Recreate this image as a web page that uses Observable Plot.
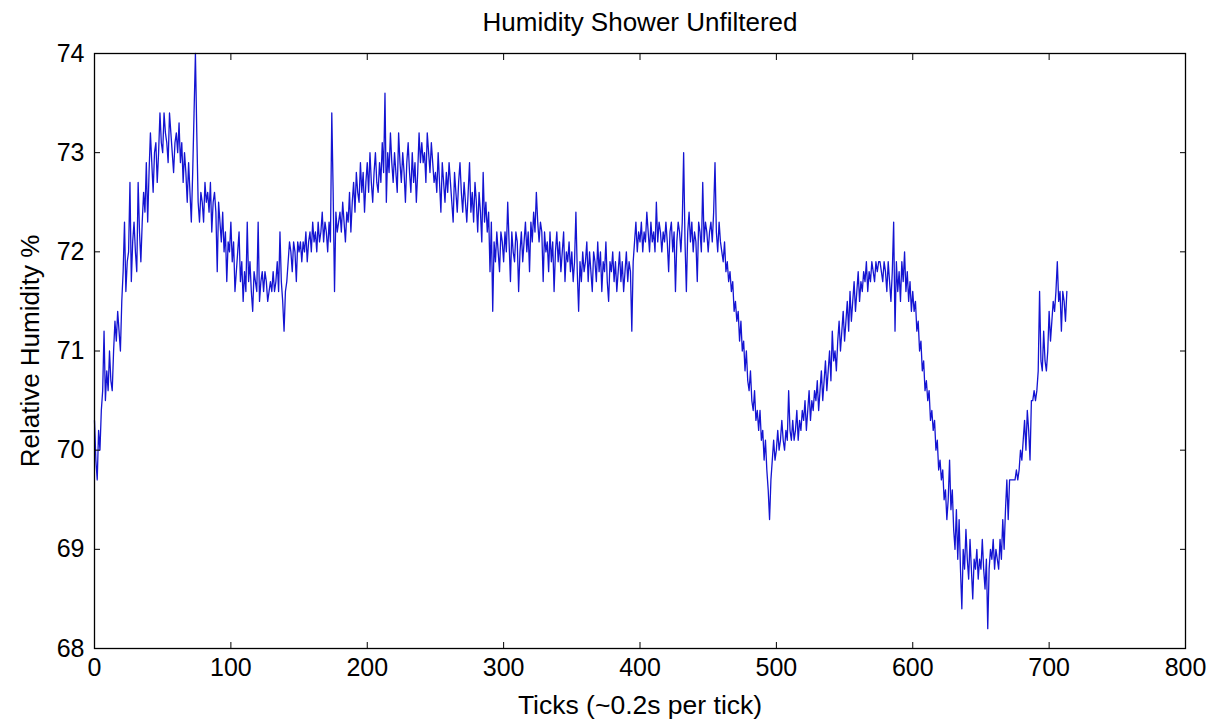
<!DOCTYPE html>
<html><head><meta charset="utf-8">
<script src="https://cdn.jsdelivr.net/npm/d3@7"></script>
<script src="https://cdn.jsdelivr.net/npm/@observablehq/plot@0.6"></script>
<style>html,body{margin:0;padding:0;background:#fff}</style>
</head><body><div id="chart"></div>
<script>
const title = "Humidity Shower Unfiltered";
const xLabel = "Ticks (~0.2s per tick)";
const yLabel = "Relative Humidity %";
const xTicks = [0, 100, 200, 300, 400, 500, 600, 700, 800];
const yTicks = [68, 69, 70, 71, 72, 73, 74];
// Relative humidity (%) per tick
const humidity = [
70.3,69.9,69.7,70.2,70.0,70.4,70.6,71.2,70.5,70.8,
70.6,71.0,70.7,70.6,71.0,71.3,71.1,71.4,71.2,71.0,
71.5,71.8,72.3,71.6,71.9,72.0,72.7,71.7,72.1,72.3,
72.0,71.8,72.7,72.2,71.9,72.3,72.6,72.4,72.9,72.3,
72.8,73.2,72.9,72.6,73.0,73.1,72.7,73.0,73.4,73.1,
73.0,73.4,73.2,73.1,72.9,73.4,73.2,73.0,72.8,73.1,
73.2,73.0,73.3,72.9,73.1,72.7,73.0,72.8,72.5,72.9,
72.6,72.3,72.8,73.4,74.0,73.2,72.5,72.3,72.6,72.5,
72.3,72.7,72.5,72.6,72.4,72.7,72.2,72.5,72.6,72.4,
71.8,72.5,72.3,72.1,72.4,72.0,72.2,71.7,72.1,72.0,
72.3,71.9,72.1,71.6,71.8,72.0,72.2,71.7,71.9,71.5,
71.8,71.6,72.3,71.7,71.9,71.6,71.4,71.8,71.7,71.6,
72.3,71.5,71.7,71.8,71.6,71.8,71.7,71.5,71.6,71.7,
71.6,71.8,71.6,71.7,71.9,71.6,72.2,71.7,71.5,71.2,
71.6,71.7,71.9,72.1,72.0,71.8,72.1,72.0,71.7,72.1,
72.0,72.1,71.9,72.1,72.0,72.2,71.9,72.1,72.2,72.0,
72.3,72.1,72.2,72.0,72.3,72.1,72.2,72.4,72.1,72.3,
72.2,72.0,72.3,72.1,73.4,72.6,71.6,72.4,72.2,72.3,
72.4,72.2,72.5,72.3,72.1,72.4,72.3,72.6,72.2,72.5,
72.7,72.4,72.8,72.6,72.5,72.9,72.6,72.8,72.4,72.7,
72.9,72.6,73.0,72.7,72.5,72.8,73.0,72.7,72.6,72.9,
72.7,73.1,72.8,73.6,72.5,73.0,72.8,73.2,72.9,72.7,
73.0,72.8,72.6,73.2,72.9,72.7,73.0,72.8,72.5,72.9,
73.1,72.8,72.6,73.0,72.7,72.9,72.5,72.8,73.2,72.9,
73.1,72.9,73.0,72.7,73.2,73.0,72.8,73.1,72.9,72.7,
72.8,72.6,73.0,72.7,72.4,72.9,72.7,72.5,72.8,72.6,
72.9,72.7,72.5,72.3,72.8,72.6,72.4,72.7,72.9,72.6,
72.4,72.7,72.5,72.3,72.6,72.9,72.4,72.6,72.3,72.7,
72.5,72.2,72.6,72.4,72.1,72.8,72.3,72.5,72.2,72.4,
71.8,72.3,71.4,72.1,71.9,72.2,72.0,71.8,72.2,72.1,
71.9,72.2,72.0,72.5,72.1,71.7,72.2,72.0,71.9,72.2,
72.1,71.6,72.0,72.2,71.9,72.1,72.3,72.0,72.2,71.8,
72.3,72.1,72.4,72.2,72.6,72.3,72.1,72.3,72.2,71.7,
72.2,72.0,72.1,71.8,72.2,71.9,72.1,71.6,72.0,72.2,
71.9,72.1,71.8,72.0,72.2,71.7,72.0,71.9,72.1,71.8,
72.0,71.7,71.9,72.4,71.8,71.4,71.9,71.7,72.0,71.8,
71.9,72.1,71.7,72.0,71.8,71.6,72.0,71.9,71.7,72.1,
71.8,72.0,71.6,71.9,71.8,72.1,71.7,71.5,71.9,71.8,
72.0,71.7,71.9,71.6,71.8,72.0,71.7,71.9,71.6,71.8,
72.0,71.7,71.9,71.8,71.2,71.9,72.1,72.3,72.0,72.2,
72.1,72.3,72.0,72.2,72.1,72.4,72.2,72.0,72.3,72.1,
72.2,72.0,72.5,72.1,72.3,72.2,72.0,72.2,72.1,72.3,
72.1,71.8,72.2,72.3,72.0,72.2,71.6,72.1,72.3,72.2,
72.0,72.3,73.0,72.1,71.6,72.2,72.4,72.1,72.3,72.0,
72.2,72.1,71.7,72.3,72.2,72.0,72.7,72.1,72.3,72.2,
72.0,72.2,72.3,72.1,72.4,72.9,72.2,72.0,72.3,72.1,
72.0,71.9,72.1,71.8,71.9,71.7,71.8,71.6,71.7,71.4,
71.5,71.3,71.4,71.1,71.3,71.0,71.1,70.8,71.0,70.7,
70.6,70.8,70.5,70.4,70.6,70.3,70.4,70.2,70.4,70.1,
70.2,69.9,70.1,69.8,69.6,69.3,69.7,69.9,70.1,69.9,
70.0,70.2,70.0,70.1,70.3,70.1,70.0,70.2,70.1,70.6,
70.2,70.1,70.3,70.1,70.2,70.4,70.1,70.3,70.2,70.4,
70.3,70.5,70.2,70.4,70.6,70.3,70.5,70.4,70.6,70.5,
70.7,70.4,70.6,70.8,70.5,70.7,70.9,70.6,70.8,71.0,
70.7,71.2,70.9,71.0,70.8,71.1,71.3,71.0,71.2,71.4,
71.1,71.3,71.5,71.2,71.6,71.3,71.5,71.7,71.4,71.6,
71.8,71.5,71.7,71.6,71.8,71.7,71.9,71.6,71.8,71.7,
71.9,71.8,71.7,71.9,71.8,71.9,71.9,71.8,71.7,71.9,
71.8,71.6,71.9,71.7,71.5,71.8,72.3,71.2,71.9,71.6,
71.8,71.5,71.9,71.7,72.0,71.6,71.8,71.5,71.7,71.4,
71.6,71.4,71.5,71.2,71.3,71.0,71.1,70.8,70.9,70.6,
70.7,70.5,70.6,70.3,70.4,70.2,70.3,70.0,70.1,69.8,
69.9,69.7,69.8,69.5,69.6,69.3,69.5,69.9,69.4,69.6,
69.2,69.0,69.4,68.9,69.3,68.8,68.4,69.0,68.8,69.2,
68.9,68.7,69.1,68.8,68.5,68.9,68.8,69.0,68.7,68.9,
68.8,69.1,68.8,68.6,68.9,68.2,68.8,69.0,68.9,69.1,
68.8,69.0,68.9,68.8,69.1,68.9,69.3,69.0,69.4,69.7,
69.3,69.7,69.7,69.7,69.7,69.7,69.8,69.7,69.8,70.0,
69.9,70.1,70.3,70.0,70.4,70.2,69.9,70.5,70.5,70.6,
70.5,70.6,70.8,71.6,70.9,70.8,71.2,70.9,70.8,71.0,
71.4,71.1,71.3,71.5,71.4,71.6,71.9,71.5,71.6,71.2,
71.6,71.5,71.3,71.6
];
const data = humidity.map((h, i) => ({tick: i, h}));
const font = "'Liberation Sans', Arial, Helvetica, sans-serif";

const chart = Plot.plot({
  width: 1209,
  height: 724,
  marginTop: 53,
  marginLeft: 94,
  marginRight: 24,
  marginBottom: 76,
  style: {fontFamily: font, fontSize: "25px", background: "#fff", color: "#000", overflow: "visible"},
  x: {domain: [0, 800], ticks: xTicks},
  y: {domain: [68, 74], ticks: yTicks},
  marks: [
    Plot.line(data, {x: "tick", y: "h", stroke: "#1414d2", strokeWidth: 1.3}),
    Plot.frame({stroke: "#000", strokeWidth: 1.3}),
    Plot.axisX(xTicks, {anchor: "bottom", tickSize: -6, tickPadding: 16, label: null, fontSize: 25, tickFormat: d => String(d)}),
    Plot.axisX(xTicks, {anchor: "top", tickSize: -6, tickFormat: () => "", label: null}),
    Plot.axisY(yTicks, {anchor: "left", tickSize: -6, tickPadding: 16, label: null, fontSize: 25, tickFormat: d => String(d)}),
    Plot.axisY(yTicks, {anchor: "right", tickSize: -6, tickFormat: () => "", label: null}),
    Plot.text([title], {frameAnchor: "top", dy: -31, lineAnchor: "middle", textAnchor: "middle", fontSize: 26}),
    Plot.text([xLabel], {frameAnchor: "bottom", dy: 57, lineAnchor: "middle", textAnchor: "middle", fontSize: 26.5}),
    Plot.text([yLabel], {frameAnchor: "left", dx: -64, rotate: -90, lineAnchor: "middle", textAnchor: "middle", fontSize: 26})
  ]
});
document.getElementById("chart").appendChild(chart);
</script>
</body></html>
